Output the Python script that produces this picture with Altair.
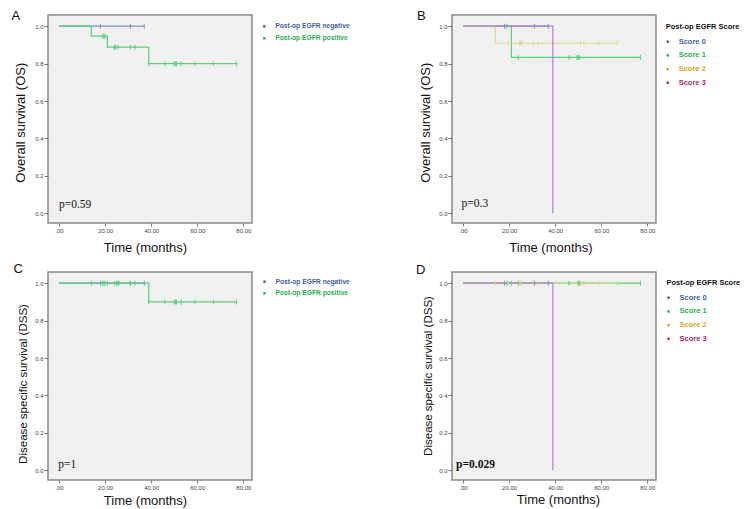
import altair as alt
import pandas as pd

# ---- axis layout ----
X_DOMAIN = [-4.77, 83.77]
Y_DOMAIN = [-0.052, 1.06]
X_TICKS = [0, 20, 40, 60, 80]
Y_TICKS = [0.0, 0.2, 0.4, 0.6, 0.8, 1.0]

# ---- colours (line / legend label) ----
LINE = {"neg": "#7d92d2", "pos": "#58cf78", "s2": "#d9d596", "s3": "#b67ccb"}
LABEL = {"neg": "#3f5ca8", "pos": "#1fb14e", "s2": "#d5a11e", "s3": "#a1296f"}

# ---- Panel A: overall survival, EGFR negative / positive ----
a_neg_t = [0, 37]
a_neg_s = [1.0, 1.0]
a_neg_cens = [18, 31, 37]
a_pos_t = [0, 14, 21, 39, 77]
a_pos_s = [1.0, 0.947, 0.888, 0.80, 0.80]
a_pos_cens = [19, 19.5, 20, 24, 24.5, 25.5, 31, 33, 39, 46, 50, 50.5, 51, 53, 59, 67, 77]

# ---- Panel B: overall survival by EGFR score ----
b_s0_t = [0, 37]
b_s0_s = [1.0, 1.0]
b_s0_cens = [18, 31, 37]
b_s1_t = [0, 21, 77]
b_s1_s = [1.0, 0.833, 0.833]
b_s1_cens = [19, 24, 46, 49.5, 50, 50.5, 77]
b_s2_t = [0, 14, 67]
b_s2_s = [1.0, 0.909, 0.909]
b_s2_cens = [19.5, 24.5, 25, 25.5, 30.5, 32.5, 51, 52.5, 59, 67]
b_s3_t = [0, 39]
b_s3_s = [1.0, 0.0]
b_s3_cens = []

# ---- Panel C: disease specific survival, EGFR negative / positive ----
c_neg_t = [0, 37]
c_neg_s = [1.0, 1.0]
c_neg_cens = [18, 31, 37]
c_pos_t = [0, 39, 77]
c_pos_s = [1.0, 0.90, 0.90]
c_pos_cens = [14, 19, 19.5, 20, 21, 24, 25, 25.5, 26, 31, 33,
              39, 46, 50, 50.5, 51, 53, 59, 67, 77]

# ---- Panel D: disease specific survival by EGFR score ----
d_s0_t = [0, 37]
d_s0_s = [1.0, 1.0]
d_s0_cens = [18, 31, 37]
d_s1_t = [0, 77]
d_s1_s = [1.0, 1.0]
d_s1_cens = [19, 21, 24, 46, 50, 50.5, 77]
d_s2_t = [0, 67]
d_s2_s = [1.0, 1.0]
d_s2_cens = [14, 19.5, 24.5, 25, 25.5, 30.5, 32.5, 51, 52.5, 59, 67]
d_s3_t = [0, 39]
d_s3_s = [1.0, 0.0]
d_s3_cens = []

NAMES_STATUS = ["Post-op EGFR negative", "Post-op EGFR positive"]
NAMES_SCORE = ["Score 0", "Score 1", "Score 2", "Score 3"]
SCORE_LEGEND_TITLE = "Post-op EGFR Score"
P_VALUES = ["p=0.59", "p=0.3", "p=1", "p=0.029"]
Y_TITLES = ["Overall survival (OS)", "Overall survival (OS)",
            "Disease specific survival (DSS)", "Disease specific survival (DSS)"]
X_TITLE = "Time (months)"
LETTERS = ["A", "B", "C", "D"]

W, H = 204, 208


def level_at(ts, ss, t):
    """Survival level of a step curve at time t."""
    val = ss[0]
    for ti, si in zip(ts, ss):
        if ti <= t:
            val = si
    return val


def x_enc(field):
    return alt.X(
        f"{field}:Q",
        scale=alt.Scale(domain=X_DOMAIN, nice=False, zero=False),
        axis=alt.Axis(
            title=None, values=X_TICKS, grid=False, domain=False,
            labelExpr="datum.value == 0 ? '.00' : format(datum.value, '.2f')",
            tickSize=3, tickColor="#555", tickWidth=0.8, labelPadding=1.5,
            labelFontSize=6, labelColor="#444", labelFont="Liberation Sans",
        ),
    )


def y_enc(field):
    return alt.Y(
        f"{field}:Q",
        scale=alt.Scale(domain=Y_DOMAIN, nice=False, zero=False),
        axis=alt.Axis(
            title=None, values=Y_TICKS, grid=False, domain=False, format=".1f",
            tickSize=4, tickColor="#555", tickWidth=0.8, labelPadding=1,
            labelFontSize=6, labelColor="#444", labelFont="Liberation Sans",
        ),
    )


def one_row(text):
    return pd.DataFrame({"label": [text]})


def pixel_text(text, x, y, size, **kw):
    return alt.Chart(one_row(text)).mark_text(
        fontSize=size, font=kw.pop("font", "Liberation Sans"), **kw
    ).encode(text="label:N", x=alt.value(x), y=alt.value(y))


def panel(groups, letter, letter_xy, ytitle, ytitle_xy, ytitle_size, xtitle_xy,
          pval, pval_xy, pbold, legend_title, legend_xy, legend_size, legend_dy):
    layers = []
    # survival curves
    for g in groups:
        df = pd.DataFrame({"t": g["t"], "s": g["s"]})
        layers.append(
            alt.Chart(df).mark_line(
                interpolate="step-after", color=g["line"], strokeWidth=1.2
            ).encode(x=x_enc("t"), y=y_enc("s"))
        )
    # censoring marks
    for g in groups:
        if not g["cens"]:
            continue
        df = pd.DataFrame({
            "t": g["cens"],
            "s": [level_at(g["t"], g["s"], c) for c in g["cens"]],
        })
        layers.append(
            alt.Chart(df).mark_tick(
                orient="vertical", size=5, thickness=1, color=g["line"], opacity=1
            ).encode(x=x_enc("t"), y=y_enc("s"))
        )
    # p-value annotation, placed in data coordinates
    pdf = pd.DataFrame({"px": [pval_xy[0]], "py": [pval_xy[1]], "label": [pval]})
    layers.append(
        alt.Chart(pdf).mark_text(
            align="left", baseline="alphabetic", font="Liberation Serif",
            fontSize=11.5, fontWeight="bold" if pbold else "normal", color="#111",
        ).encode(x=x_enc("px"), y=y_enc("py"), text="label:N")
    )
    # panel letter and axis titles
    layers.append(pixel_text(letter, letter_xy[0], letter_xy[1], 13,
                             align="left", baseline="alphabetic", color="#111"))
    layers.append(pixel_text(X_TITLE, xtitle_xy[0], xtitle_xy[1], 13,
                             align="center", baseline="middle", color="#111"))
    layers.append(pixel_text(ytitle, ytitle_xy[0], ytitle_xy[1], ytitle_size,
                             align="center", baseline="middle", angle=270,
                             color="#111"))
    # legend
    lx, ly = legend_xy
    row0 = ly
    if legend_title:
        layers.append(pixel_text(legend_title, lx - 2, ly, legend_size,
                                 align="left", baseline="middle",
                                 fontWeight="bold", color="#111"))
        row0 = ly + legend_dy + 1
    for i, g in enumerate(groups):
        yy = row0 + i * legend_dy
        layers.append(
            alt.Chart(one_row(g["name"])).mark_square(
                size=6, color=g["label"], opacity=1
            ).encode(x=alt.value(lx), y=alt.value(yy))
        )
        layers.append(pixel_text(g["name"], lx + 11, yy, legend_size,
                                 align="left", baseline="middle",
                                 fontWeight="bold", color=g["label"]))
    return alt.layer(*layers).properties(width=W, height=H)


def grp(name, t, s, cens, key):
    return {"name": name, "t": t, "s": s, "cens": cens,
            "line": LINE[key], "label": LABEL[key]}


panel_a = panel(
    [grp(NAMES_STATUS[0], a_neg_t, a_neg_s, a_neg_cens, "neg"),
     grp(NAMES_STATUS[1], a_pos_t, a_pos_s, a_pos_cens, "pos")],
    LETTERS[0], (-36.5, 5), Y_TITLES[0], (-26.7, 107.7), 13, (97.5, 232.7),
    P_VALUES[0], (0, 0.028), False, None, (216.3, 11.3), 6.7, 12,
)
panel_b = panel(
    [grp(NAMES_SCORE[0], b_s0_t, b_s0_s, b_s0_cens, "neg"),
     grp(NAMES_SCORE[1], b_s1_t, b_s1_s, b_s1_cens, "pos"),
     grp(NAMES_SCORE[2], b_s2_t, b_s2_s, b_s2_cens, "s2"),
     grp(NAMES_SCORE[3], b_s3_t, b_s3_s, b_s3_cens, "s3")],
    LETTERS[1], (-35, 5), Y_TITLES[1], (-26, 107.7), 13, (99, 232.7),
    P_VALUES[1], (-0.6, 0.032), False, SCORE_LEGEND_TITLE, (215.7, 12), 7.5, 13.7,
)
panel_c = panel(
    [grp(NAMES_STATUS[0], c_neg_t, c_neg_s, c_neg_cens, "neg"),
     grp(NAMES_STATUS[1], c_pos_t, c_pos_s, c_pos_cens, "pos")],
    LETTERS[2], (-34.5, 1), Y_TITLES[2], (-24.5, 112), 11.5, (97.5, 229),
    P_VALUES[2], (-0.3, 0.012), False, None, (216.5, 9.7), 6.7, 11.6,
)
panel_d = panel(
    [grp(NAMES_SCORE[0], d_s0_t, d_s0_s, d_s0_cens, "neg"),
     grp(NAMES_SCORE[1], d_s1_t, d_s1_s, d_s1_cens, "pos"),
     grp(NAMES_SCORE[2], d_s2_t, d_s2_s, d_s2_cens, "s2"),
     grp(NAMES_SCORE[3], d_s3_t, d_s3_s, d_s3_cens, "s3")],
    LETTERS[3], (-36, 2), Y_TITLES[3], (-23.5, 104), 11.5, (106.5, 228.3),
    P_VALUES[3], (-3, 0.012), True, SCORE_LEGEND_TITLE, (216.5, 11), 7.5, 13.7,
)

chart = (
    alt.concat(panel_a, panel_b, panel_c, panel_d, columns=2,
               spacing={"row": 49, "column": 200}, bounds="flush")
    .properties(padding={"left": 10, "top": 9, "right": 0, "bottom": 0},
                background="white")
    .configure_view(stroke="#8a8a8a", strokeWidth=1.5, fill="#f0f0f0")
)

chart.save("out.html", embed_options={"renderer": "svg", "actions": False})
